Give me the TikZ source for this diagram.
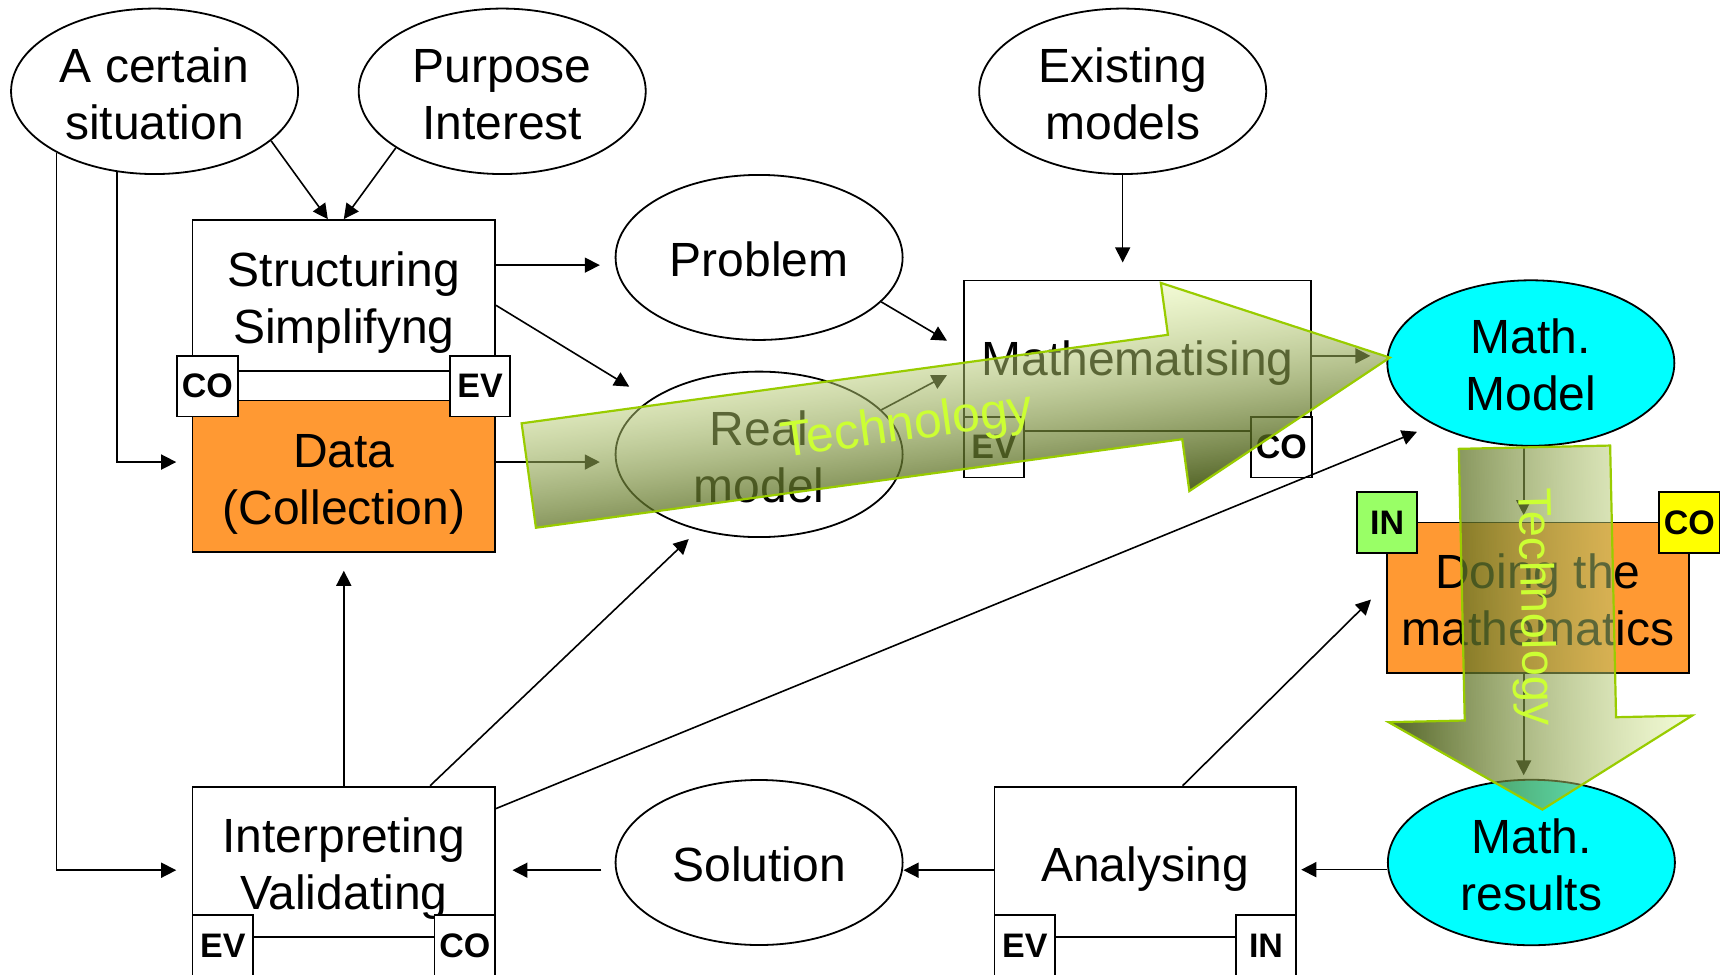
\documentclass[tikz,border=0pt]{standalone}
\usepackage{fontspec}
\setmainfont{Liberation Sans}
\usetikzlibrary{shapes.geometric,arrows.meta,calc,fadings}

\definecolor{boxorange}{HTML}{FF9933}
\definecolor{modelcyan}{HTML}{00FFFF}
\definecolor{ingreen}{HTML}{99FF66}
\definecolor{coyellow}{HTML}{FFFF00}
\definecolor{techlight}{RGB}{224,244,152}
\definecolor{techmid}{RGB}{150,180,60}
\definecolor{techdark}{RGB}{52,72,0}
\definecolor{techedge}{HTML}{99CC00}
\definecolor{techtext}{HTML}{CCFF33}

% the technology arrows are more see-through on their light side
\tikzfading[name=techfadev, top color=transparent!60, bottom color=transparent!15]
\tikzfading[name=techfadeh, left color=transparent!15, right color=transparent!60]

% fixed line metrics, so that every label sits at the same height in its shape
\newcommand{\topstrut}{\rule{0pt}{24.7pt}}
\newcommand{\botstrut}{\rule[-5.3pt]{0pt}{5.3pt}}
\newcommand{\mkone}[1]{\topstrut\botstrut #1}
\newcommand{\mktwo}[2]{\topstrut #1\\#2\botstrut}

\begin{document}
\begin{tikzpicture}[x=0.55pt,y=-0.55pt,
  every node/.style={font=\fontsize{24}{28.5}\selectfont, align=center, inner sep=0pt},
  oval/.style={ellipse, draw, line width=0.9pt, fill=white, minimum width=143.5pt, minimum height=82.5pt},
  procbox/.style={rectangle, draw, line width=0.9pt, fill=white, minimum height=75.35pt},
  tag/.style={rectangle, draw, line width=0.9pt, fill=white, minimum width=30.25pt, minimum height=30.25pt,
              font=\fontsize{17}{20}\selectfont\bfseries},
  conn/.style={line width=0.8pt},
  arr/.style={conn, -{Triangle[length=7.5pt,width=7.5pt]}},
  techedgeline/.style={draw=techedge, line width=1.1pt},
  techlabel/.style={text=techtext}
]
\useasboundingbox (0,0) rectangle (1568,886);
\clip (0,0) rectangle (1568,886);

% ---- ovals ----
\node[oval] (sit) at (140.5,83) {\mktwo{A certain}{situation}};
\node[oval] (pur) at (456.5,83) {\mktwo{Purpose}{Interest}};
\node[oval] (exi) at (1020.5,83) {\mktwo{Existing}{models}};
\node[oval] (prob) at (690,234) {\mkone{Problem}};
\node[oval] (real) at (690,413) {\mktwo{Real}{model}};
\node[oval] (sol) at (690,784) {\mkone{Solution}};
\node[oval, fill=modelcyan] (mmod) at (1391.5,330) {\mktwo{Math.}{Model}};
\node[oval, fill=modelcyan] (mres) at (1392,784) {\mktwo{Math.}{results}};

% ---- process boxes ----
\node[procbox, minimum width=151.25pt] (struct) at (312.5,268.5) {\mktwo{Structuring}{Simplifyng}};
\node[procbox, minimum width=151.25pt, minimum height=75.9pt, fill=boxorange] (data) at (312.5,433) {\mktwo{Data}{(Collection)}};
\node[procbox, minimum width=173.8pt] (math) at (1034,323.5) {\mkone{Mathematising}};
\node[procbox, minimum width=150.7pt, fill=boxorange] (doing) at (1398,543.5) {\mktwo{Doing the}{mathematics}};
\node[procbox, minimum width=151.25pt] (interp) at (312.5,783.5) {\mktwo{Interpreting}{Validating}};
\node[procbox, minimum width=150.7pt] (anal) at (1041,783.5) {\mkone{Analysing}};

% ---- competence tags ----
\node[tag] (sco) at (188.5,351) {CO};
\node[tag] (sev) at (436.4,351) {EV};
\node[tag] (mev) at (903.5,406.5) {EV};
\node[tag] (mco) at (1164.8,406.5) {CO};
\node[tag, fill=ingreen] (din) at (1260.8,475) {IN};
\node[tag, fill=coyellow] (dco) at (1535.5,475) {CO};
\node[tag] (iev) at (202.5,859.5) {EV};
\node[tag] (ico) at (422.5,859.5) {CO};
\node[tag] (aev) at (931.5,859.5) {EV};
\node[tag] (ain) at (1150.8,859.5) {IN};

% ---- connectors (y grows downwards) ----
\draw[arr] (sit.-23.3) -- ($(struct.north)+(-14.5,0)$);
\draw[arr] (pur.208.8) -- (struct.north);
\draw[arr] (sit.-115.5) |- ($(data.west)+(-14,-13)$);
\draw[arr] (sit.-148.1) |- ($(interp.west)+(-14,7.5)$);
\draw[arr] ($(struct.east)+(0,-27.5)$) -- ($(prob.west)+(-13.5,7)$);
\draw[arr] ($(struct.east)+(0,9)$) -- ($(real)+(-118,-61.5)$);
\draw[arr] ($(data.east)+(0,-13)$) -- ($(real.west)+(-13.5,7)$);
\draw[arr] (prob.-20.5) -- ($(math.west)+(-14.4,-13.8)$);
\draw[arr] (real.20.5) -- ($(math.west)+(-14.4,17.4)$);
\draw[arr, shorten >=8.6pt] (exi.south) -- (exi.south |- math.north);
\draw[arr, shorten >=8pt] (math.east) -- (math.east -| mmod.west);
\coordinate (vx) at ($(mmod.south)+(-6.5,0)$);
\draw[arr, shorten >=3.3pt] (vx) -- (vx |- doing.north);
\draw[arr, shorten >=1.8pt] (vx |- doing.south) -- (vx |- mres.north);
\coordinate (rowr) at ($(mres.west)+(0,6.5)$);
\draw[arr, shorten >=2.2pt] (rowr) -- (rowr -| anal.east);
\coordinate (rowa) at ($(anal.west)+(0,7.5)$);
\draw[arr] (rowa) -- (rowa -| sol.east);
\coordinate (rows) at ($(sol.west)+(0,7)$);
\draw[arr, shorten <=6.6pt, shorten >=8.25pt] (rows) -- (rows -| interp.east);
\draw[arr, shorten >=8.8pt] (interp.north) -- (data.south);
\draw[arr] ($(interp.north)+(78.5,0)$) -- ($(real)+(-64,77)$);
\draw[arr] ($(interp.east)+(0,-48.5)$) -- ($(mmod)+(-103.5,62.5)$);
\draw[arr] ($(anal.north)+(34,0)$) -- ($(doing.west)+(-14,1.5)$);

% ---- technology arrow along the modelling step ----
\begin{scope}[transform canvas={shift={(480.65,432.25)},rotate=7.8}]
  \shade[top color=techlight, middle color=techmid, bottom color=techdark, path fading=techfadev]
    (0,-47.9) -- (593,-47.9) -- (593,-95.5) -- (790,0) -- (593,95.5) -- (593,47.9) -- (0,47.9) -- cycle;
  \draw[techedgeline]
    (0,-47.9) -- (593,-47.9) -- (593,-95.5) -- (790,0) -- (593,95.5) -- (593,47.9) -- (0,47.9) -- cycle;
  \node[techlabel, anchor=base, font=\fontsize{25}{30}\selectfont] (techh) at (347,15) {Technology};
\end{scope}

% ---- technology arrow along the working step ----
\begin{scope}[transform canvas={shift={(1394.8,406.5)},rotate=1.25}]
  \shade[left color=techdark, middle color=techmid, right color=techlight, path fading=techfadeh]
    (-68.8,0) -- (68.8,0) -- (68.8,247) -- (138,247) -- (0,329.5) -- (-138,247) -- (-68.8,247) -- cycle;
  \draw[techedgeline]
    (-68.8,0) -- (68.8,0) -- (68.8,247) -- (138,247) -- (0,329.5) -- (-138,247) -- (-68.8,247) -- cycle;
  \node[techlabel, anchor=base, rotate=-90, font=\fontsize{23.5}{28}\selectfont] (techv) at (-15,145) {Technology};
\end{scope}
\end{tikzpicture}
\end{document}
